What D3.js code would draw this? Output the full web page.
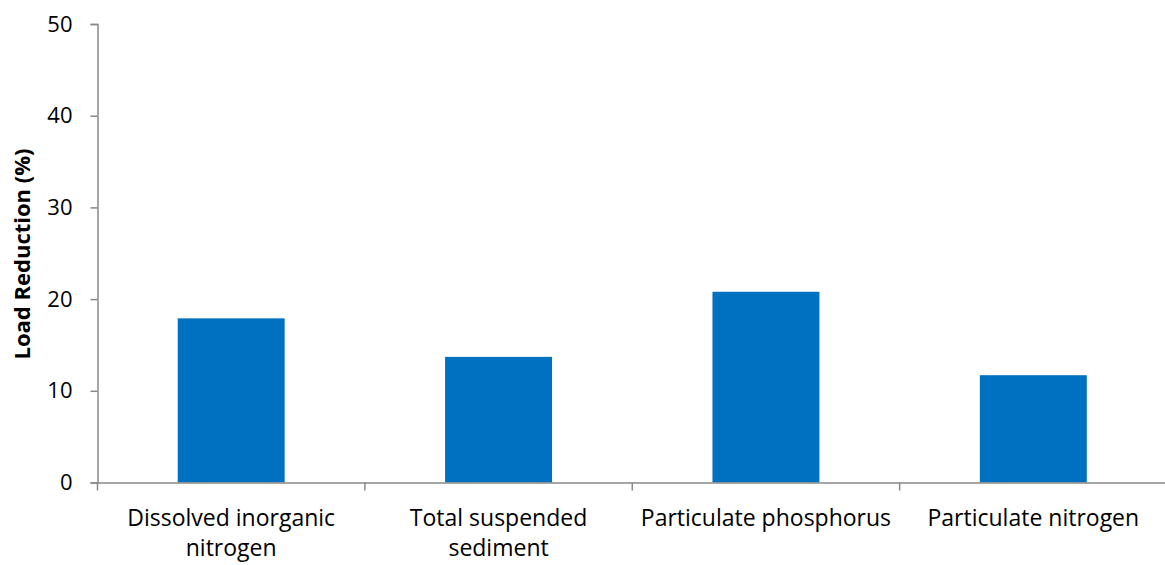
<!DOCTYPE html>
<html><head><meta charset="utf-8">
<script src="https://cdn.jsdelivr.net/npm/d3@7"></script>
<style>body{margin:0;background:#fff}svg{display:block}</style>
</head><body>
<script>
const categories = ["Dissolved inorganic nitrogen", "Total suspended sediment", "Particulate phosphorus", "Particulate nitrogen"];
const categoryLines = [["Dissolved inorganic", "nitrogen"], ["Total suspended", "sediment"], ["Particulate phosphorus"], ["Particulate nitrogen"]];
const values = [17.9, 13.7, 20.8, 11.7];
const yTicks = [0, 10, 20, 30, 40, 50];
const yTitle = "Load Reduction (%)";

const W = 1165, H = 565;
const m = {left: 97.5, right: -2, top: 24, bottom: 82.5};
const svg = d3.select("body").append("svg").attr("width", W).attr("height", H);
const font = "'Open Sans', sans-serif";
const axisColor = "#898989";

const x = d3.scaleBand().domain(categories).range([m.left, W - m.right]).padding(0);
const y = d3.scaleLinear().domain([0, 50]).range([H - m.bottom, m.top]);

// bars
svg.append("g").selectAll("rect").data(values).join("rect")
  .attr("x", (d, i) => x(categories[i]) + x.bandwidth() * 0.3)
  .attr("width", x.bandwidth() * 0.4)
  .attr("y", d => y(d))
  .attr("height", d => y(0) - y(d))
  .attr("fill", "#0070C0");

// y axis
const ya = svg.append("g").attr("transform", `translate(${m.left},0)`)
  .call(d3.axisLeft(y).tickValues(yTicks).tickSize(7).tickPadding(18).tickFormat(d3.format("d")));
ya.select(".domain").attr("stroke", axisColor).attr("stroke-width", 1.5);
ya.selectAll(".tick line").attr("stroke", axisColor).attr("stroke-width", 1.5);
ya.selectAll(".tick text").attr("font-family", font).attr("font-size", 22).attr("fill", "#000");

// x axis
const xa = svg.append("g").attr("transform", `translate(0,${y(0)})`)
  .call(d3.axisBottom(x).tickSize(0).tickFormat(""));
xa.select(".domain").attr("stroke", axisColor).attr("stroke-width", 1.5);
xa.selectAll(".tick").remove();
// category boundary ticks
const bounds = categories.map(c => x(c));
xa.selectAll("line.b").data(bounds).join("line").attr("class", "b")
  .attr("x1", d => d).attr("x2", d => d).attr("y1", 0).attr("y2", 8)
  .attr("stroke", axisColor).attr("stroke-width", 1.5);

// x labels
const lab = svg.append("g");
categories.forEach((c, i) => {
  const t = lab.append("text")
    .attr("x", x(c) + x.bandwidth() / 2)
    .attr("y", 526)
    .attr("text-anchor", "middle")
    .attr("font-family", font).attr("font-size", 23).attr("fill", "#000");
  categoryLines[i].forEach((ln, j) => {
    t.append("tspan").attr("x", x(c) + x.bandwidth() / 2).attr("dy", j === 0 ? 0 : 30).text(ln);
  });
});

// y title
svg.append("text")
  .attr("transform", `translate(30,254) rotate(-90)`)
  .attr("text-anchor", "middle")
  .attr("font-family", font).attr("font-weight", "bold").attr("font-size", 22).attr("fill", "#000")
  .text(yTitle);
</script>
</body></html>
